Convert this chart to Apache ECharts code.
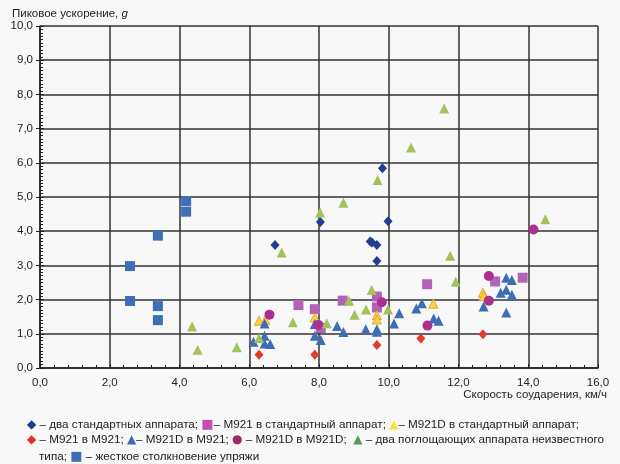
<!DOCTYPE html>
<html>
<head>
<meta charset="utf-8">
<script src="https://cdn.jsdelivr.net/npm/echarts@6/dist/echarts.min.js"></script>
<style>
  html, body { margin: 0; padding: 0; background: #f8f8f8; }
  #chart { width: 620px; height: 464px; }
</style>
</head>
<body>
<div id="chart"></div>
<script>
// два стандартных аппарата
const twoStandard = [[6.74, 3.6], [8.04, 4.27], [9.82, 5.84], [9.98, 4.29], [9.47, 3.7], [9.52, 3.67], [9.66, 3.6], [9.66, 3.13]]
// M921 в стандартный аппарат
const m921InStd = [[7.41, 1.84], [7.88, 1.72], [8.05, 1.17], [8.68, 1.97], [9.66, 2.09], [9.66, 1.77], [11.1, 2.45], [13.05, 2.53], [13.84, 2.64]]
// M921D в стандартный аппарат
const m921dInStd = [[6.28, 1.38], [6.46, 1.4], [7.88, 1.48], [9.66, 1.55], [9.66, 1.42], [11.28, 1.88], [12.7, 2.2], [12.72, 2.1]]
// M921 в M921
const m921InM921 = [[6.28, 0.39], [7.88, 0.39], [9.66, 0.67], [10.92, 0.86], [12.7, 0.99]]
// M921D в M921
const m921dInM921 = [[6.12, 0.77], [6.44, 1.3], [6.44, 0.94], [6.44, 0.72], [6.6, 0.7], [7.88, 1.29], [7.88, 0.94], [8.05, 0.82],
  [8.52, 1.23], [8.7, 1.05], [9.34, 1.13], [9.66, 1.13], [9.66, 1.06], [10.15, 1.3], [10.3, 1.6], [10.79, 1.74], [10.95, 1.89],
  [11.29, 1.45], [11.43, 1.38], [12.72, 1.8], [13.21, 2.2], [13.37, 2.64], [13.37, 2.29], [13.53, 2.57], [13.53, 2.14], [13.37, 1.62]]
// M921D в M921D
const m921dInM921d = [[6.58, 1.56], [7.98, 1.26], [9.8, 1.92], [11.11, 1.24], [12.87, 2.69], [12.87, 1.97], [14.15, 4.05]]
// два поглощающих аппарата неизвестного типа
const unknownPair = [[4.36, 1.21], [4.52, 0.53], [5.64, 0.61], [6.28, 0.88], [6.93, 3.38], [7.25, 1.34], [8.03, 4.55], [8.22, 1.31],
  [8.7, 4.83], [8.86, 1.97], [9.02, 1.56], [9.35, 1.71], [9.51, 2.28], [9.68, 5.5], [9.98, 1.71], [10.64, 6.45], [11.59, 7.59],
  [11.76, 3.28], [11.92, 2.52], [14.49, 4.35]]
// жесткое столкновение упряжи
const rigidCoupling = [[2.58, 2.98], [2.58, 1.96], [3.38, 3.87], [3.38, 1.81], [3.38, 1.4], [4.19, 4.88], [4.19, 4.57]]

const xMin = 0, xMax = 16, xStep = 2
const yMin = 0, yMax = 10, yStep = 1

const font = '"Liberation Sans", Arial, sans-serif'
const fmt = v => v.toFixed(1).replace('.', ',')

const chart = echarts.init(document.getElementById('chart'))

function sc(name, data, symbol, size, color, border) {
  return {
    name: name,
    type: 'scatter',
    data: data,
    symbol: symbol,
    symbolSize: size,
    itemStyle: border
      ? { color: color, borderColor: border, borderWidth: 1, opacity: 1 }
      : { color: color, opacity: 1 },
    emphasis: { disabled: true }
  }
}

// в graphic rich-тексте цвет задаётся через fill
const sym = (c, s) => ({ fill: c, fontSize: s || 13, fontFamily: '"DejaVu Sans", sans-serif' })
const legendRich = {
  t: { fill: '#222', fontSize: 11.7, fontFamily: font },
  d1: sym('#1f3a87', 12),
  s1: sym('#c44fb4', 13),
  y1: sym('#f3e33a', 12),
  d2: sym('#e5302a', 12),
  b1: sym('#3a6fb5', 12),
  c1: sym('#9c2a63', 12),
  g1: sym('#4f9a55', 12),
  s2: sym('#3d6fb7', 13)
}

const option = {
  backgroundColor: '#f8f8f8',
  animation: false,
  grid: { left: 40, right: 22, top: 26, bottom: 96 },
  xAxis: {
    type: 'value',
    min: xMin, max: xMax, interval: xStep,
    axisLine: { show: true, onZero: false, lineStyle: { color: '#222', width: 1.5 } },
    axisTick: { show: true, inside: true, length: 4, lineStyle: { color: '#222' } },
    minorTick: { show: true, splitNumber: 5, length: 3, lineStyle: { color: '#222' } },
    axisLabel: { formatter: fmt, color: '#222', fontSize: 11.5, fontFamily: font, margin: 9 },
    splitLine: { show: true, lineStyle: { color: '#333', width: 1.5 } }
  },
  yAxis: [
    {
      type: 'value',
      min: yMin, max: yMax, interval: yStep,
      axisLine: { show: true, onZero: false, lineStyle: { color: '#222', width: 1.5 } },
      axisTick: { show: true, inside: true, length: 4, lineStyle: { color: '#222' } },
      minorTick: { show: true, splitNumber: 10, length: 3, lineStyle: { color: '#222' } },
      axisLabel: { formatter: fmt, color: '#222', fontSize: 11.5, fontFamily: font, margin: 7 },
      splitLine: { show: true, lineStyle: { color: '#333', width: 1.5 } }
    },
    {
      // внешние основные засечки слева
      type: 'value',
      position: 'left',
      min: yMin, max: yMax, interval: yStep,
      axisLine: { show: false },
      axisTick: { show: true, inside: false, length: 4, lineStyle: { color: '#222' } },
      axisLabel: { show: false },
      splitLine: { show: false }
    }
  ],
  series: [
    sc('два стандартных аппарата', twoStandard, 'diamond', [9, 10], '#223f8e'),
    sc('M921 в стандартный аппарат', m921InStd, 'rect', 10, '#b363b5'),
    sc('M921D в стандартный аппарат', m921dInStd, 'triangle', 9, '#f6d54a', '#e9a52a'),
    sc('M921 в M921', m921InM921, 'diamond', [9, 10], '#e23b2e'),
    sc('M921D в M921', m921dInM921, 'triangle', 10, '#3e6db5'),
    sc('M921D в M921D', m921dInM921d, 'circle', 10, '#aa2f90'),
    sc('два поглощающих аппарата неизвестного типа', unknownPair, 'triangle', 10, '#a3c25c'),
    sc('жесткое столкновение упряжи', rigidCoupling, 'rect', 10, '#3d6fb7')
  ],
  graphic: [
    {
      type: 'text', left: 12, top: 8,
      style: {
        text: 'Пиковое ускорение, {i|g}',
        fill: '#222', fontSize: 11.5, fontFamily: font,
        rich: { i: { fontStyle: 'italic', fontSize: 11.5, fontFamily: font, fill: '#222' } }
      }
    },
    {
      type: 'text', right: 13, top: 389,
      style: { text: 'Скорость соударения, км/ч', fill: '#222', fontSize: 11.5, fontFamily: font }
    },
    {
      type: 'text', left: 27, top: 418,
      style: {
        text: '{d1|◆}{t| – два стандартных аппарата; }{s1|■}{t|– M921 в стандартный аппарат; }{y1|▲}{t|– M921D в стандартный аппарат;}',
        rich: legendRich
      }
    },
    {
      type: 'text', left: 27, top: 434,
      style: {
        text: '{d2|◆}{t| – M921 в M921; }{b1|▲}{t|– M921D в M921; }{c1|●}{t| – M921D в M921D;  }{g1|▲}{t| – два поглощающих аппарата неизвестного}',
        rich: legendRich
      }
    },
    {
      type: 'text', left: 39, top: 450,
      style: {
        text: '{t|типа; }{s2|■}{t| – жесткое столкновение упряжи}',
        rich: legendRich
      }
    }
  ]
}

chart.setOption(option)
</script>
</body>
</html>
